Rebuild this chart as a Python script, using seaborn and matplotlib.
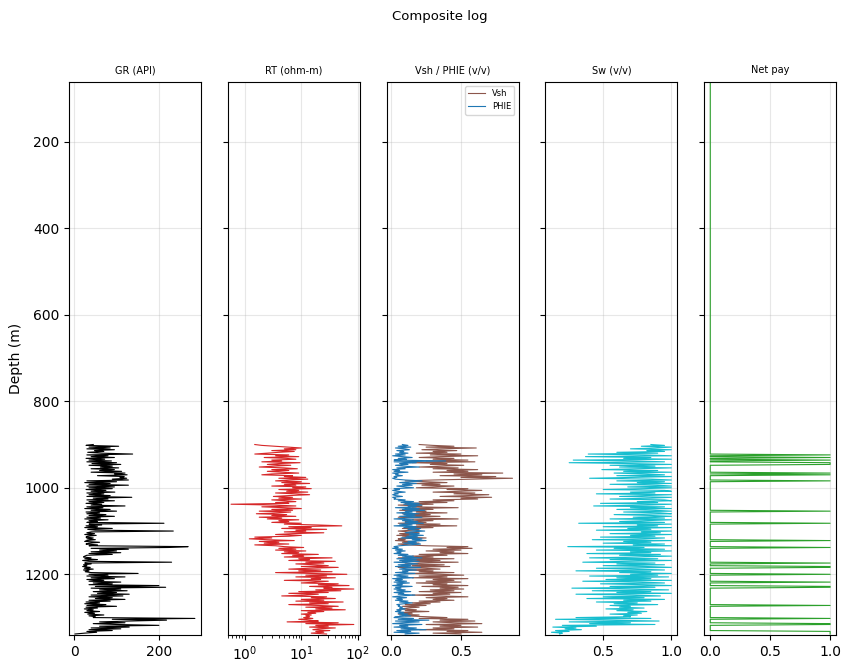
import numpy as np
import pandas as pd
import matplotlib
matplotlib.use("Agg")
import matplotlib.pyplot as plt
import seaborn as sns

# ---------------- data (2 m sampling) ----------------
DEPTH_START = 900
DEPTH_STEP = 2
TOP_DEPTH = 61.3      # top of the depth axis (net-pay flag is 0 above the logged interval)
BOTTOM_DEPTH = 1340.3

GR = [
    45, 28, 105, 35, 85, 30, 95, 48, 70, 32,
    65, 138, 30, 80, 40, 95, 28, 72, 35, 88,
    30, 100, 42, 110, 35, 90, 62, 105, 40, 95,
    60, 112, 40, 120, 95, 125, 55, 118, 108, 124,
    90, 128, 30, 100, 25, 85, 35, 128, 30, 95,
    35, 90, 28, 75, 40, 96, 30, 70, 35, 85,
    30, 136, 45, 80, 30, 95, 35, 70, 28, 65,
    40, 120, 30, 68, 25, 85, 40, 100, 28, 60,
    30, 75, 35, 95, 30, 62, 25, 80, 35, 55,
    30, 212, 35, 65, 28, 55, 25, 90, 32, 50,
    234, 40, 30, 48, 25, 52, 32, 28, 45, 30,
    50, 30, 25, 60, 35, 28, 55, 35, 269, 222,
    40, 128, 60, 100, 40, 110, 35, 90, 30, 25,
    22, 40, 25, 55, 20, 35, 230, 25, 40, 22,
    30, 20, 38, 24, 45, 22, 35, 26, 40, 151,
    35, 80, 30, 120, 40, 95, 30, 70, 35, 110,
    45, 90, 35, 200, 50, 216, 40, 110, 60, 125,
    45, 100, 55, 130, 40, 115, 35, 90, 50, 120,
    35, 85, 28, 60, 25, 75, 30, 100, 28, 55,
    24, 45, 30, 60, 25, 48, 32, 70, 35, 50,
    45, 285, 90, 218, 130, 60, 120, 45, 100, 200,
    60, 130, 40, 110, 35, 90, 30, 53, 25, 2,
]

RT = [
    1.5, 2.0, 3.5, 6.0, 10.0, 5.0, 8.0, 3.0, 7.5, 4.0,
    2.5, 1.5, 6.0, 3.5, 9.0, 2.2, 5.5, 8.0, 3.0, 4.5,
    2.0, 9.5, 4.0, 2.5, 6.5, 3.2, 1.8, 5.0, 8.5, 3.0,
    6.0, 2.5, 4.5, 9.0, 3.0, 2.0, 7.0, 5.0, 12.0, 4.0,
    13.0, 6.0, 3.5, 10.0, 4.5, 14.0, 5.0, 8.0, 3.0, 12.0,
    7.0, 15.0, 4.0, 9.0, 5.5, 13.0, 3.5, 8.0, 14.0, 6.0,
    3.2, 7.0, 4.0, 10.0, 3.0, 5.5, 8.0, 3.5, 6.0, 0.57,
    3.5, 8.0, 2.0, 5.0, 10.0, 3.0, 7.0, 1.8, 6.5, 4.0,
    1.6, 5.5, 3.0, 8.0, 1.8, 4.5, 2.5, 9.0, 4.0, 6.0,
    3.0, 10.0, 5.0, 20.0, 52.0, 6.0, 15.0, 4.5, 28.0, 8.0,
    12.0, 5.0, 25.0, 7.0, 3.5, 10.0, 6.0, 1.5, 3.0, 1.2,
    2.5, 7.5, 1.8, 4.0, 2.2, 6.0, 1.5, 3.5, 5.0, 11.0,
    4.0, 8.0, 3.5, 12.0, 5.0, 9.0, 4.5, 20.0, 7.0, 11.0,
    5.0, 35.0, 9.0, 14.0, 6.0, 40.0, 12.0, 25.0, 8.0, 18.0,
    30.0, 10.0, 45.0, 14.0, 6.0, 22.0, 9.0, 35.0, 3.5, 16.0,
    64.0, 12.0, 28.0, 8.0, 40.0, 15.0, 22.0, 5.0, 30.0, 18.0,
    10.0, 45.0, 20.0, 70.0, 14.0, 35.0, 25.0, 85.0, 18.0, 50.0,
    9.0, 30.0, 6.0, 20.0, 12.0, 4.5, 28.0, 15.0, 40.0, 10.0,
    25.0, 8.0, 55.0, 14.0, 30.0, 6.0, 20.0, 45.0, 12.0, 35.0,
    18.0, 60.0, 10.0, 25.0, 13.0, 18.0, 10.0, 15.0, 12.0, 14.0,
    11.0, 16.0, 9.0, 14.0, 20.0, 5.6, 45.0, 12.0, 85.0, 18.0,
    30.0, 14.0, 40.0, 20.0, 16.0, 32.0, 18.0, 25.0, 15.0, 28.0,
]

VSH = [
    0.20, 0.30, 0.45, 0.25, 0.61, 0.35, 0.22, 0.47, 0.30, 0.40,
    0.18, 0.50, 0.28, 0.62, 0.35, 0.20, 0.45, 0.30, 0.55, 0.25,
    0.60, 0.15, 0.40, 0.28, 0.52, 0.35, 0.20, 0.48, 0.30, 0.62,
    0.40, 0.55, 0.30, 0.80, 0.45, 0.65, 0.35, 0.75, 0.50, 0.87,
    0.60, 0.30, 0.10, 0.25, 0.40, 0.15, 0.35, 0.22, 0.45, 0.30,
    0.18, 0.55, 0.40, 0.65, 0.50, 0.30, 0.60, 0.45, 0.70, 0.55,
    0.35, 0.72, 0.50, 0.62, 0.30, 0.45, 0.20, 0.40, 0.10, 0.30,
    0.05, 0.22, 0.15, 0.48, 0.10, 0.30, 0.06, 0.25, 0.18, 0.40,
    0.08, 0.28, 0.12, 0.35, 0.05, 0.20, 0.48, 0.15, 0.30, 0.10,
    0.25, 0.05, 0.35, 0.18, 0.47, 0.12, 0.30, 0.08, 0.20, 0.15,
    0.05, 0.12, 0.20, 0.06, 0.15, 0.04, 0.18, 0.08, 0.25, 0.05,
    0.10, 0.03, 0.15, 0.08, 0.20, 0.05, 0.12, 0.25, 0.55, 0.40,
    0.58, 0.30, 0.50, 0.25, 0.45, 0.35, 0.55, 0.20, 0.40, 0.15,
    0.30, 0.05, 0.45, 0.12, 0.35, 0.08, 0.48, 0.20, 0.10, 0.38,
    0.15, 0.42, 0.05, 0.25, 0.35, 0.10, 0.30, 0.20, 0.45, 0.12,
    0.35, 0.52, 0.20, 0.40, 0.15, 0.55, 0.30, 0.45, 0.25, 0.50,
    0.18, 0.40, 0.30, 0.55, 0.22, 0.48, 0.35, 0.52, 0.28, 0.45,
    0.20, 0.50, 0.30, 0.42, 0.15, 0.35, 0.55, 0.25, 0.40, 0.30,
    0.45, 0.20, 0.35, 0.15, 0.28, 0.10, 0.25, 0.08, 0.20, 0.12,
    0.06, 0.18, 0.10, 0.27, 0.08, 0.15, 0.05, 0.20, 0.10, 0.25,
    0.40, 0.20, 0.55, 0.35, 0.60, 0.30, 0.45, 0.65, 0.25, 0.50,
    0.35, 0.62, 0.30, 0.45, 0.20, 0.55, 0.40, 0.65, 0.30, 0.50,
]

PHIE = [
    0.08, 0.12, 0.05, 0.14, 0.03, 0.10, 0.13, 0.04, 0.09, 0.06,
    0.12, 0.03, 0.10, 0.01, 0.08, 0.15, 0.05, 0.11, 0.02, 0.39,
    0.02, 0.18, 0.06, 0.12, 0.03, 0.09, 0.20, 0.04, 0.10, 0.01,
    0.06, 0.02, 0.12, 0.01, 0.05, 0.03, 0.08, 0.02, 0.04, 0.01,
    0.03, 0.10, 0.22, 0.14, 0.06, 0.18, 0.08, 0.15, 0.04, 0.10,
    0.16, 0.02, 0.06, 0.01, 0.04, 0.10, 0.02, 0.05, 0.01, 0.03,
    0.08, 0.01, 0.03, 0.02, 0.10, 0.05, 0.16, 0.07, 0.20, 0.09,
    0.22, 0.12, 0.18, 0.03, 0.20, 0.08, 0.24, 0.10, 0.15, 0.04,
    0.20, 0.09, 0.17, 0.06, 0.22, 0.12, 0.02, 0.16, 0.08, 0.19,
    0.10, 0.23, 0.06, 0.15, 0.02, 0.18, 0.09, 0.21, 0.12, 0.16,
    0.24, 0.14, 0.10, 0.20, 0.13, 0.23, 0.11, 0.19, 0.07, 0.22,
    0.15, 0.25, 0.12, 0.18, 0.09, 0.21, 0.14, 0.06, 0.02, 0.05,
    0.01, 0.08, 0.03, 0.10, 0.04, 0.07, 0.02, 0.12, 0.05, 0.16,
    0.08, 0.22, 0.04, 0.18, 0.06, 0.20, 0.02, 0.13, 0.19, 0.05,
    0.14, 0.03, 0.21, 0.10, 0.06, 0.18, 0.08, 0.12, 0.03, 0.17,
    0.07, 0.02, 0.12, 0.04, 0.16, 0.01, 0.08, 0.03, 0.11, 0.02,
    0.13, 0.04, 0.08, 0.01, 0.15, 0.03, 0.07, 0.02, 0.10, 0.04,
    0.14, 0.02, 0.09, 0.05, 0.17, 0.07, 0.01, 0.11, 0.04, 0.08,
    0.03, 0.12, 0.06, 0.15, 0.09, 0.04, 0.06, 0.05, 0.08, 0.06,
    0.10, 0.04, 0.07, 0.03, 0.09, 0.05, 0.12, 0.06, 0.14, 0.03,
    0.02, 0.16, 0.05, 0.27, 0.03, 0.20, 0.08, 0.01, 0.22, 0.06,
    0.12, 0.02, 0.18, 0.07, 0.25, 0.04, 0.14, 0.02, 0.20, 0.10,
]

SW = [
    0.85, 0.95, 0.78, 1.00, 0.88, 0.70, 1.00, 0.82, 0.95, 0.60,
    0.90, 0.39, 0.80, 1.00, 0.37, 0.85, 0.65, 1.00, 0.28, 0.75,
    0.95, 0.25, 0.70, 1.00, 0.55, 0.88, 0.62, 1.00, 0.75, 0.49,
    0.90, 0.65, 1.00, 0.58, 0.82, 0.95, 0.60, 1.00, 0.72, 0.40,
    0.85, 1.00, 0.60, 0.95, 0.75, 1.00, 0.55, 0.90, 1.00, 0.68,
    1.00, 0.80, 0.50, 0.95, 1.00, 0.70, 0.88, 0.45, 1.00, 0.80,
    0.62, 1.00, 0.85, 0.55, 0.95, 1.00, 0.75, 0.90, 0.48, 1.00,
    0.82, 0.43, 0.95, 0.70, 1.00, 0.60, 0.88, 1.00, 0.65, 0.92,
    1.00, 0.58, 0.85, 1.00, 0.72, 0.95, 0.55, 1.00, 0.80, 0.62,
    0.95, 0.32, 1.00, 0.75, 0.90, 0.50, 1.00, 0.68, 0.85, 0.45,
    1.00, 0.78, 0.92, 0.55, 1.00, 0.70, 0.88, 0.48, 0.95, 0.80,
    0.42, 1.00, 0.65, 0.85, 0.50, 0.95, 0.72, 1.00, 0.24, 0.80,
    0.58, 0.95, 0.45, 1.00, 0.70, 0.85, 0.38, 0.92, 0.62, 1.00,
    0.75, 0.40, 0.90, 0.55, 1.00, 0.68, 0.35, 0.88, 0.60, 0.95,
    0.50, 0.82, 1.00, 0.45, 0.75, 0.95, 0.30, 0.85, 0.62, 1.00,
    0.70, 0.90, 0.40, 0.98, 0.60, 0.85, 0.52, 1.00, 0.35, 0.78,
    0.95, 0.48, 0.80, 1.00, 0.55, 0.88, 0.27, 0.75, 0.98, 0.42,
    0.85, 0.60, 1.00, 0.30, 0.72, 0.92, 0.50, 0.80, 0.38, 0.95,
    0.65, 0.85, 0.45, 0.75, 0.58, 0.90, 0.55, 0.70, 0.62, 0.80,
    0.52, 0.72, 0.60, 0.82, 0.68, 0.78, 0.55, 0.75, 0.65, 0.70,
    0.30, 0.85, 0.15, 0.55, 0.91, 0.25, 0.70, 0.40, 0.88, 0.20,
    0.45, 0.13, 0.30, 0.22, 0.34, 0.15, 0.25, 0.12, 0.20, 0.18,
]

# depths (m) flagged as net pay
PAY_DEPTHS = [924, 930, 936, 942, 944, 946, 966, 970, 984, 1054, 1082,
              1122, 1138, 1174, 1182, 1184, 1200, 1218, 1228, 1230, 1272,
              1302, 1314, 1316, 1332, 1334, 1336, 1338]

TITLES = ["GR (API)", "RT (ohm-m)", "Vsh / PHIE (v/v)", "Sw (v/v)", "Net pay"]

# ---------------- build tables ----------------
n = len(GR)
depth = DEPTH_START + DEPTH_STEP * np.arange(n)
logs = pd.DataFrame({"DEPTH": depth, "GR": GR, "RT": RT, "VSH": VSH,
                     "PHIE": PHIE, "SW": SW})
logs["NETPAY"] = logs["DEPTH"].isin(PAY_DEPTHS).astype(float)
netpay = pd.concat([pd.DataFrame({"DEPTH": [TOP_DEPTH], "NETPAY": [0.0]}),
                    logs[["DEPTH", "NETPAY"]]], ignore_index=True)

# ---------------- plot ----------------
plt.rcParams["font.family"] = ["DejaVu Sans"]

fig, axes = plt.subplots(1, 5, figsize=(8.48, 6.68), dpi=100, sharey=True)
fig.subplots_adjust(left=0.0814, right=0.986, top=0.8777, bottom=0.0494,
                    wspace=0.2045)

lw = 0.8
common = dict(orient="y", estimator=None, sort=False, linewidth=lw)

sns.lineplot(data=logs, x="GR", y="DEPTH", color="black", ax=axes[0], **common)
sns.lineplot(data=logs, x="RT", y="DEPTH", color="tab:red", ax=axes[1], **common)
axes[1].set_xscale("log")
axes[1].set_xlim(0.5, 108)
sns.lineplot(data=logs, x="VSH", y="DEPTH", color="tab:brown", ax=axes[2],
             label="Vsh", **common)
sns.lineplot(data=logs, x="PHIE", y="DEPTH", color="tab:blue", ax=axes[2],
             label="PHIE", **common)
axes[2].legend(loc="upper right", fontsize=6)
sns.lineplot(data=logs, x="SW", y="DEPTH", color="tab:cyan", ax=axes[3], **common)
sns.lineplot(data=netpay, x="NETPAY", y="DEPTH", color="tab:green", ax=axes[4],
             **common)

for ax, t in zip(axes, TITLES):
    ax.set_title(t, fontsize=7)
    ax.set_xlabel("")
    ax.set_ylabel("")
    ax.grid(True, alpha=0.3)

axes[0].set_ylim(BOTTOM_DEPTH, TOP_DEPTH)
axes[0].set_ylabel("Depth (m)", fontsize=10, labelpad=1)

fig.suptitle("Composite log", fontsize=9.5, x=0.519, y=0.985)
fig.savefig("out.png", dpi=100)
